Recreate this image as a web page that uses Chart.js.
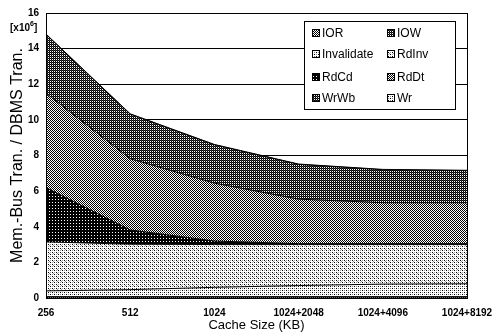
<!DOCTYPE html>
<html><head><meta charset="utf-8">
<script src="https://cdn.jsdelivr.net/npm/chart.js@4/dist/chart.umd.min.js"></script>
<style>html,body{margin:0;padding:0;background:#fff}#wrap{width:492px;height:333px;position:relative}</style>
</head><body><div id="wrap"><canvas id="c" width="492" height="333"></canvas></div>
<script>
const categories = ["256","512","1024","1024+2048","1024+4096","1024+8192"];
const IOR        = [0.05,0.05,0.05,0.05,0.05,0.05];
const IOW        = [0.02,0.02,0.02,0.02,0.02,0.02];
const Invalidate = [0.33,0.40,0.53,0.63,0.71,0.73];
const RdInv      = [2.75,2.55,2.40,2.30,2.22,2.20];
const RdCd       = [3.05,0.80,0.20,0.05,0.05,0.05];
const RdDt       = [5.30,4.00,3.25,2.50,2.30,2.30];
const WrWb       = [3.30,2.50,2.15,1.95,1.85,1.80];
const Wr         = [0.02,0.02,0.02,0.02,0.02,0.02];
const yTicks = [0,2,4,6,8,10,12,14,16];

function pat(size, fn){
  const c=document.createElement('canvas'); c.width=size; c.height=size;
  const x=c.getContext('2d'); x.fillStyle='#fff'; x.fillRect(0,0,size,size);
  fn(x); return x.createPattern(c,'repeat');
}
function px(x,col,pts){x.fillStyle=col; pts.forEach(p=>x.fillRect(p[0],p[1],1,1));}
const pLight = pat(4,x=>{px(x,'#000',[[0,0],[2,2]]);px(x,'#888',[[2,0],[0,2]]);});
const pLight2 = pat(4,x=>{px(x,'#000',[[0,0],[2,2]]);px(x,'#999',[[2,0],[0,2],[1,1]]);});
const pMed = pat(2,x=>px(x,'#000',[[0,0],[1,1]]));
const pDark = pat(3,x=>px(x,'#000',[[0,0],[1,0],[2,0],[0,1],[2,1],[0,2],[1,2],[2,2]]));
const pDarkChk = pat(2,x=>{px(x,'#000',[[0,0],[1,1]]);px(x,'#333',[[1,0]]);});

const series = [
  {label:'IOR', data:IOR, bg:pMed},
  {label:'IOW', data:IOW, bg:pDarkChk},
  {label:'Invalidate', data:Invalidate, bg:pLight},
  {label:'RdInv', data:RdInv, bg:pLight2},
  {label:'RdCd', data:RdCd, bg:pDark},
  {label:'RdDt', data:RdDt, bg:pMed},
  {label:'WrWb', data:WrWb, bg:pDarkChk},
  {label:'Wr', data:Wr, bg:pLight}
];

const legendPlugin = {
  id:'boxLegend',
  afterDraw(chart){
    const ctx=chart.ctx; ctx.save();
    const bx=304.5, by=21.5, bw=151, bh=88;
    ctx.fillStyle='#fff'; ctx.fillRect(bx,by,bw,bh);
    ctx.strokeStyle='#000'; ctx.lineWidth=1; ctx.strokeRect(bx,by,bw,bh);
    ctx.font='12px "Liberation Sans", Arial, sans-serif'; ctx.textBaseline='middle'; ctx.fillStyle='#000';
    const rows=[33,54,77,98], cols=[312,387];
    chart.data.datasets.forEach((ds,i)=>{
      const cx=cols[i%2], cy=rows[Math.floor(i/2)];
      ctx.fillStyle=ds.backgroundColor; ctx.fillRect(cx,cy-4,8,8);
      ctx.strokeStyle='#000'; ctx.strokeRect(cx+0.5,cy-3.5,7,7);
      ctx.fillStyle='#000'; ctx.fillText(ds.label,cx+10,cy+1);
    });
    ctx.font='bold 10px "Liberation Sans", Arial, sans-serif'; ctx.textBaseline='alphabetic';
    ctx.fillText('[x10',10,31); ctx.font='bold 7px "Liberation Sans", Arial, sans-serif'; ctx.fillText('6',30,26);
    ctx.font='bold 10px "Liberation Sans", Arial, sans-serif'; ctx.fillText(']',34,31);
    ctx.restore();
  }
};

new Chart(document.getElementById('c'),{
  type:'line',
  data:{labels:categories, datasets:series.map((s,i)=>({label:s.label,data:s.data,backgroundColor:s.bg,borderColor:'#000',borderWidth:1,pointRadius:0,tension:0,fill:i===0?'origin':'-1'}))},
  options:{
    responsive:false, animation:false,
    layout:{padding:{left:0,right:0,top:10,bottom:0}},
    plugins:{legend:{display:false},tooltip:{enabled:false}},
    scales:{
      x:{type:'category',offset:false,grid:{display:false,drawTicks:false},border:{color:'#000'},
        ticks:{autoSkip:false,maxRotation:0,padding:9,color:'#000',font:{family:'"Liberation Sans", Arial',size:10,weight:'bold'}},
        title:{display:true,text:'Cache Size (KB)',color:'#000',padding:{top:5,bottom:0},font:{family:'"Liberation Sans", Arial',size:13}},
        afterFit(s){s.height=35;s.paddingRight=25;s.paddingLeft=0;}},
      y:{stacked:true,min:0,max:16,grid:{color:'#000',drawTicks:false},border:{color:'#000'},
        afterBuildTicks(s){s.ticks=yTicks.map(v=>({value:v}));},
        ticks:{padding:7,color:'#000',font:{family:'"Liberation Sans", Arial',size:10,weight:'bold'}},
        title:{display:true,text:'Mem.-Bus Tran. / DBMS Tran.',color:'#000',padding:{top:8,bottom:0},font:{family:'"Liberation Sans", Arial',size:16}},
        afterFit(s){s.width=46;}}
    }
  },
  plugins:[legendPlugin,{id:'border',afterDatasetsDraw(c){const a=c.chartArea,x=c.ctx;x.save();x.strokeStyle='#000';x.lineWidth=1;x.strokeRect(Math.round(a.left)+0.5,Math.round(a.top)+0.5,Math.round(a.right-a.left),Math.round(a.bottom-a.top));x.restore();}}]
});
</script></body></html>
